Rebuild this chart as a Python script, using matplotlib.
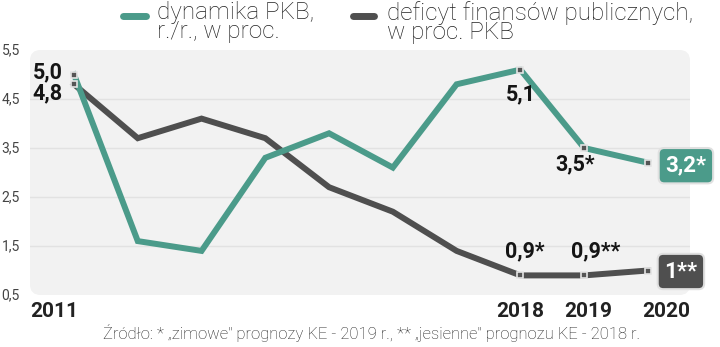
import matplotlib.pyplot as plt
from matplotlib.patches import FancyBboxPatch
from matplotlib.lines import Line2D

years = [2011, 2012, 2013, 2014, 2015, 2016, 2017, 2018, 2019, 2020]
pkb = [5.0, 1.6, 1.4, 3.3, 3.8, 3.1, 4.8, 5.1, 3.5, 3.2]
deficyt = [4.8, 3.7, 4.1, 3.7, 2.7, 2.2, 1.4, 0.9, 0.9, 1.0]
y_ticks = [0.5, 1.5, 2.5, 3.5, 4.5, 5.5]
x_labels = [2011, 2018, 2019, 2020]
marked = [0, 7, 8, 9]

TEAL = "#4b9b8a"
GREY = "#4f4f4f"
FONT = "Roboto"

fig = plt.figure(figsize=(7.2, 3.47), dpi=100)
ax = fig.add_axes([30 / 720, 1 - 295 / 347, 660 / 720, 245 / 347])
ax.set_xlim(2010.31, 2020.66)
ax.set_ylim(0.5, 5.5)
ax.axis("off")

# light rounded panel behind the lines
panel = FancyBboxPatch((0, 0), 1, 1, boxstyle="round,pad=0,rounding_size=0.016",
                       mutation_aspect=660 / 245, transform=ax.transAxes,
                       fc="#f2f2f2", ec="none", zorder=0)
ax.add_patch(panel)
for v in y_ticks[1:-1]:
    ax.axhline(v, color="#e2e2e2", lw=1, zorder=1)

for v in y_ticks:
    ax.text(-0.043, v, f"{v:.1f}".replace(".", ","), transform=ax.get_yaxis_transform(),
            ha="left", va="center", fontsize=10, color="#444444", family=FONT)

ax.plot(years, deficyt, color=GREY, lw=4.3, solid_joinstyle="miter", zorder=3)
ax.plot(years, pkb, color=TEAL, lw=4.3, solid_joinstyle="miter", zorder=4)
for series in (deficyt, pkb):
    ax.plot([years[i] for i in marked], [series[i] for i in marked], ls="none",
            marker="s", ms=5, mfc="#555555", mec="#e4e4e4", mew=1.2, zorder=5)

# year labels under the panel
for yr in x_labels:
    if yr == 2011:
        ax.text(2010.31, -0.03, str(yr), transform=ax.get_xaxis_transform(),
                ha="left", va="top", fontsize=15, fontweight="bold", color="#222222", family=FONT)
    elif yr == 2020:
        ax.text(1.0, -0.03, str(yr), transform=ax.transAxes,
                ha="right", va="top", fontsize=15, fontweight="bold", color="#222222", family=FONT)
    else:
        ax.annotate(str(yr), (yr, 0), xycoords=ax.get_xaxis_transform(),
                    xytext=(0 if yr == 2018 else 4, -7), textcoords="offset pixels",
                    ha="center", va="top", fontsize=15, fontweight="bold", color="#222222",
                    family=FONT, annotation_clip=False)

def value_label(x, y, text, dx, dy, ha="center"):
    ax.annotate(text, (x, y), xytext=(dx, dy), textcoords="offset pixels",
                ha=ha, va="center", fontsize=15.5, fontweight="bold", color="#151515",
                family=FONT, annotation_clip=False, zorder=6)

value_label(2011, pkb[0], "5,0", -11, 2, ha="right")
value_label(2011, deficyt[0], "4,8", -11, -9, ha="right")
value_label(2018, pkb[7], "5,1", 0, -25)
value_label(2019, pkb[8], "3,5*", -9, -16)
value_label(2018, deficyt[7], "0,9*", 4, 24)
value_label(2019, deficyt[8], "0,9**", 12, 24)

box_kw = dict(textcoords="offset pixels", ha="center", va="center", fontsize=16,
              fontweight="bold", color="white", family=FONT, annotation_clip=False, zorder=7)
ax.annotate(f"{pkb[9]:.1f}*".replace(".", ","), (2020, pkb[9]), xytext=(38, -3),
            bbox=dict(boxstyle="round,pad=0.3,rounding_size=0.25", fc=TEAL, ec="#e0e0e0", lw=1.5),
            **box_kw)
ax.annotate(f"{deficyt[9]:.0f}**", (2020, deficyt[9]), xytext=(33, -1),
            bbox=dict(boxstyle="round,pad=0.3,rounding_size=0.25", fc=GREY, ec="#e0e0e0", lw=1.5),
            **box_kw)

# legend at the top
fig.add_artist(Line2D([123 / 720, 146 / 720], [1 - 16 / 347] * 2, color=TEAL, lw=5,
                      solid_capstyle="round"))
fig.text(157 / 720, 1 - 1 / 347, "dynamika PKB,\nr./r., w proc.", ha="left", va="top",
         fontsize=17.5, fontweight="light", color="#222222", family=FONT, linespacing=0.78)
fig.add_artist(Line2D([353 / 720, 374 / 720], [1 - 16 / 347] * 2, color=GREY, lw=5,
                      solid_capstyle="round"))
fig.text(387 / 720, 1 - 1 / 347, "deficyt finansów publicznych,\nw proc. PKB", ha="left",
         va="top", fontsize=17.5, fontweight="light", color="#222222", family=FONT,
         linespacing=0.78)

fig.text(372 / 720, 1 - 333 / 347,
         "Źródło: * „zimowe\" prognozy KE - 2019 r., ** „jesienne\" prognozu KE - 2018 r.",
         ha="center", va="center", fontsize=12, fontweight="light", color="#222222", family=FONT)

fig.savefig("out.png", dpi=100)
